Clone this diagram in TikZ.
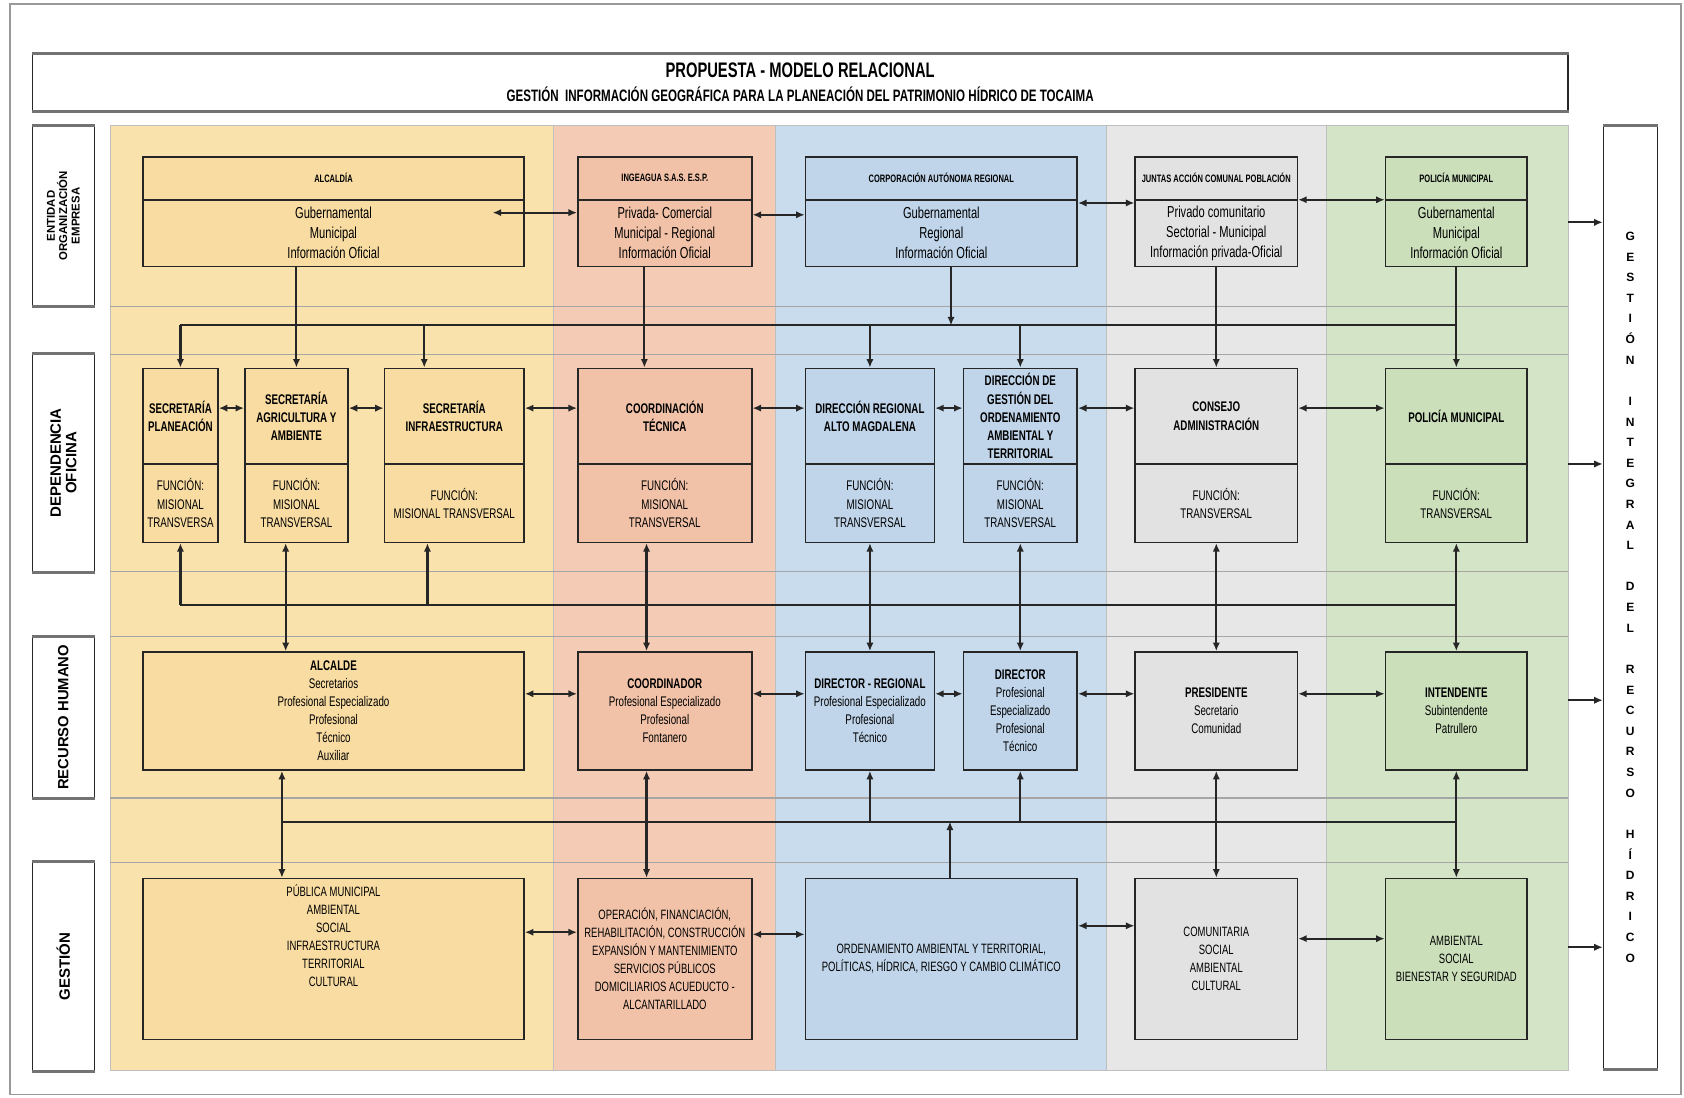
\documentclass[tikz,border=0pt]{standalone}
\usepackage{fontspec}
\setmainfont{Liberation Sans}
\newfontfamily\narrowfont{Liberation Sans}[FakeStretch=0.7]
\usetikzlibrary{arrows.meta,calc}
\definecolor{Ink}{HTML}{262626}
\definecolor{LaneYel}{HTML}{FAE2AC}
\definecolor{BoxYel}{HTML}{F8DCA2}
\definecolor{LaneSal}{HTML}{F4CBB4}
\definecolor{BoxSal}{HTML}{F2C2A8}
\definecolor{LaneBlu}{HTML}{C9DCEE}
\definecolor{BoxBlu}{HTML}{C0D5EA}
\definecolor{LaneGry}{HTML}{E7E7E7}
\definecolor{BoxGry}{HTML}{E2E2E2}
\definecolor{LaneGrn}{HTML}{D3E5C6}
\definecolor{BoxGrn}{HTML}{CADFBA}

\begin{document}
\begin{tikzpicture}[x=0.5pt,y=-0.5pt,
  spot/.style args={#1/#2/#3/#4}{at={({(#1+#3)/2},{(#2+#4)/2})},
    minimum width=(#3-#1)*0.5pt,minimum height=(#4-#2)*0.5pt},
  box/.style={draw=Ink,line width=0.7pt,inner sep=0pt,align=center,
    font=\narrowfont\fontsize{6.5}{8.4}\selectfont},
  yel/.style={box,fill=BoxYel}, sal/.style={box,fill=BoxSal}, blu/.style={box,fill=BoxBlu},
  gry/.style={box,fill=BoxGry}, grn/.style={box,fill=BoxGrn},
  hdr/.style={font=\narrowfont\bfseries\fontsize{5}{6}\selectfont},
  org/.style={font=\narrowfont\fontsize{7.4}{9.25}\selectfont},
  dep/.style={font=\narrowfont\bfseries\fontsize{6.5}{8.5}\selectfont},
  fun/.style={font=\narrowfont\fontsize{6.5}{8.5}\selectfont},
  ges/.style={font=\narrowfont\fontsize{6.3}{8.4}\selectfont},
  lane/.style={draw=black!25,line width=0.4pt,inner sep=0pt},
  side/.style={draw=Ink,fill=white,line width=0.6pt,inner sep=0pt,align=center},
  bandline/.style={draw=black!35,line width=0.5pt},
  edge/.style={black!55,line width=1.4pt},
  line/.style={line width=1pt,color=Ink},
  arr/.style={line,-{Latex[length=4pt,width=3.4pt]}},
  darr/.style={line,{Latex[length=4pt,width=3.4pt]}-{Latex[length=4pt,width=3.4pt]}}
]
\useasboundingbox (0,0) rectangle (1568,1022);
\draw[black!40,line width=0.8pt] (9,4) rectangle (1565,1019);

% title
\node[side,spot=30/50/1460/103,font=\narrowfont\bfseries] (ttl)
  {{\fontsize{9.8}{11}\selectfont PROPUESTA - MODELO RELACIONAL}\\[-1pt]
   {\fontsize{7.7}{9}\selectfont GESTIÓN\ \ INFORMACIÓN GEOGRÁFICA PARA LA PLANEACIÓN DEL PATRIMONIO HÍDRICO DE TOCAIMA}};

% lanes
\node[lane,fill=LaneYel,spot=103/117/515/997] (laneA) {};
\node[lane,fill=LaneSal,spot=515/117/722/997] (laneB) {};
\node[lane,fill=LaneBlu,spot=722/117/1030/997] (laneC) {};
\node[lane,fill=LaneGry,spot=1030/117/1235/997] (laneD) {};
\node[lane,fill=LaneGrn,spot=1235/117/1460/997] (laneE) {};
\foreach \y in {285,330,532,593,743,803}
  \draw[bandline] (laneA.west |- 0,\y) -- (laneE.east |- 0,\y);

% row labels
\node[side,rotate=90,minimum width=84pt,minimum height=29pt,font=\bfseries\fontsize{5.3}{5.8}\selectfont] (ent) at (59,201)
  {ENTIDAD\\ORGANIZACIÓN\\EMPRESA};
\node[side,rotate=90,minimum width=101pt,minimum height=29pt,font=\bfseries\fontsize{7}{7.2}\selectfont] (dep) at (59,431)
  {DEPENDENCIA\\OFICINA};
\node[side,rotate=90,minimum width=75pt,minimum height=29pt,font=\bfseries\fontsize{6.9}{8}\selectfont] (rhu) at (59,668)
  {RECURSO HUMANO};
\node[side,rotate=90,minimum width=97pt,minimum height=29pt,font=\bfseries\fontsize{7}{8}\selectfont] (ges) at (59,900)
  {GESTIÓN};
\foreach \n in {ent,dep,rhu,ges}
  \draw[edge] (\n.north east) -- (\n.south east) (\n.north west) -- (\n.south west);
\node[side,spot=1493/117/1543/995,font=\bfseries\fontsize{5.6}{9.6}\selectfont] (gir)
  {G\\E\\S\\T\\I\\Ó\\N\\[9.6pt]I\\N\\T\\E\\G\\R\\A\\L\\[9.6pt]D\\E\\L\\[9.6pt]R\\E\\C\\U\\R\\S\\O\\[9.6pt]H\\Í\\D\\R\\I\\C\\O};
\foreach \n in {ttl,gir}
  \draw[edge] (\n.north west) -- (\n.north east) (\n.south west) -- (\n.south east);

% entidad
\node[yel,hdr,spot=133/146/488/186] (alcH) {ALCALDÍA};
\node[yel,org,spot=133/186/488/248] (alcB) {Gubernamental\\Municipal\\Información Oficial};
\node[sal,hdr,spot=538/146/700/186] (ingH) {INGEAGUA S.A.S. E.S.P.};
\node[sal,org,spot=538/186/700/248] (ingB) {Privada- Comercial\\Municipal - Regional\\Información Oficial};
\node[blu,hdr,spot=750/146/1003/186] (carH) {CORPORACIÓN AUTÓNOMA REGIONAL};
\node[blu,org,spot=750/186/1003/248] (carB) {Gubernamental\\Regional\\Información Oficial};
\node[gry,hdr,spot=1057/146/1208/186] (jacH) {JUNTAS ACCIÓN COMUNAL POBLACIÓN};
\node[gry,org,spot=1057/186/1208/248] (jacB) {Privado comunitario\\Sectorial - Municipal\\Información privada-Oficial};
\node[grn,hdr,spot=1290/146/1422/186] (polH) {POLICÍA MUNICIPAL};
\node[grn,org,spot=1290/186/1422/248] (polB) {Gubernamental\\Municipal\\Información Oficial};

% dependencia
\node[yel,dep,spot=133/343/203/432] (splH) {SECRETARÍA\\PLANEACIÓN};
\node[yel,fun,spot=133/432/203/505] (splF) {FUNCIÓN:\\MISIONAL\\TRANSVERSA};
\node[yel,dep,spot=228/343/324/432] (sagH) {SECRETARÍA\\AGRICULTURA Y\\AMBIENTE};
\node[yel,fun,spot=228/432/324/505] (sagF) {FUNCIÓN:\\MISIONAL\\TRANSVERSAL};
\node[yel,dep,spot=358/343/488/432] (sinH) {SECRETARÍA\\INFRAESTRUCTURA};
\node[yel,fun,spot=358/432/488/505] (sinF) {FUNCIÓN:\\MISIONAL TRANSVERSAL};
\node[sal,dep,spot=538/343/700/432] (cotH) {COORDINACIÓN\\TÉCNICA};
\node[sal,fun,spot=538/432/700/505] (cotF) {FUNCIÓN:\\MISIONAL\\TRANSVERSAL};
\node[blu,dep,spot=750/343/870/432] (draH) {DIRECCIÓN REGIONAL\\ALTO MAGDALENA};
\node[blu,fun,spot=750/432/870/505] (draF) {FUNCIÓN:\\MISIONAL\\TRANSVERSAL};
\node[blu,dep,spot=897/343/1003/432] (dgoH) {DIRECCIÓN DE\\GESTIÓN DEL\\ORDENAMIENTO\\AMBIENTAL Y\\TERRITORIAL};
\node[blu,fun,spot=897/432/1003/505] (dgoF) {FUNCIÓN:\\MISIONAL\\TRANSVERSAL};
\node[gry,dep,spot=1057/343/1208/432] (cadH) {CONSEJO\\ADMINISTRACIÓN};
\node[gry,fun,spot=1057/432/1208/505] (cadF) {FUNCIÓN:\\TRANSVERSAL};
\node[grn,dep,spot=1290/343/1422/432] (pmuH) {POLICÍA MUNICIPAL};
\node[grn,fun,spot=1290/432/1422/505] (pmuF) {FUNCIÓN:\\TRANSVERSAL};

% recurso humano
\node[yel,spot=133/607/488/717] (alcde) {\textbf{ALCALDE}\\Secretarios\\Profesional Especializado\\Profesional\\Técnico\\Auxiliar};
\node[sal,spot=538/607/700/717] (cdor) {\textbf{COORDINADOR}\\Profesional Especializado\\Profesional\\Fontanero};
\node[blu,spot=750/607/870/717] (dreg) {\textbf{DIRECTOR - REGIONAL}\\Profesional Especializado\\Profesional\\Técnico};
\node[blu,spot=897/607/1003/717] (dir) {\textbf{DIRECTOR}\\Profesional\\Especializado\\Profesional\\Técnico};
\node[gry,spot=1057/607/1208/717] (pres) {\textbf{PRESIDENTE}\\Secretario\\Comunidad};
\node[grn,spot=1290/607/1422/717] (inte) {\textbf{INTENDENTE}\\Subintendente\\Patrullero};

% gestion
\node[yel,spot=133/818/488/968] (g1) {};
\node[ges,inner sep=0pt,align=center,anchor=north] (g1t) at ($(g1.north)+(0,6)$)
  {PÚBLICA MUNICIPAL\\AMBIENTAL\\SOCIAL\\INFRAESTRUCTURA\\TERRITORIAL\\CULTURAL};
\node[sal,ges,spot=538/818/700/968] (g2) {OPERACIÓN, FINANCIACIÓN,\\REHABILITACIÓN, CONSTRUCCIÓN\\EXPANSIÓN Y MANTENIMIENTO\\SERVICIOS PÚBLICOS\\DOMICILIARIOS ACUEDUCTO -\\ALCANTARILLADO};
\node[blu,ges,spot=750/818/1003/968] (g3) {ORDENAMIENTO AMBIENTAL Y TERRITORIAL,\\POLÍTICAS, HÍDRICA, RIESGO Y CAMBIO CLIMÁTICO};
\node[gry,ges,spot=1057/818/1208/968] (g4) {COMUNITARIA\\SOCIAL\\AMBIENTAL\\CULTURAL};
\node[grn,ges,spot=1290/818/1422/968] (g5) {AMBIENTAL\\SOCIAL\\BIENESTAR Y SEGURIDAD};

% horizontal links
\draw[darr] ($(alcB.east |- 0,198)+(-30,0)$) -- (ingB.west |- 0,198);
\draw[darr] (ingB.east |- 0,200) -- (carB.west |- 0,200);
\draw[darr] (carB.east |- 0,189) -- (jacB.west |- 0,189);
\draw[darr] (jacB.east |- 0,186) -- (polB.west |- 0,186);
\foreach \a/\b in {splH/sagH,sagH/sinH,sinH/cotH,cotH/draH,draH/dgoH,dgoH/cadH,cadH/pmuH}
  \draw[darr] (\a.east |- 0,380) -- (\b.west |- 0,380);
\foreach \a/\b in {alcde/cdor,cdor/dreg,dreg/dir,dir/pres,pres/inte}
  \draw[darr] (\a.east |- 0,646) -- (\b.west |- 0,646);
\foreach \a/\b/\y in {g1/g2/868,g2/g3/870,g3/g4/862,g4/g5/874}
  \draw[darr] (\a.east |- 0,\y) -- (\b.west |- 0,\y);
\foreach \y in {207,432,652,882}
  \draw[arr] (laneE.east |- 0,\y) -- (gir.west |- 0,\y);

% entidad -> dependencia
\draw[line] (splH.north |- 0,303) -- (pmuH.north |- 0,303);
\draw[arr] (alcB.south -| sagH.north) -- (sagH.north);
\draw[arr] (splH.north |- 0,303) -- (splH.north);
\draw[arr] ($(sinH.north |- 0,303)+(-28,0)$) -- ($(sinH.north)+(-28,0)$);
\draw[arr] ($(ingB.south)+(-19,0)$) -- ($(cotH.north)+(-19,0)$);
\draw[arr] ($(carB.south)+(9,0)$) -- ($(carB.south |- 0,303)+(9,0)$);
\draw[arr] (draH.north |- 0,303) -- (draH.north);
\draw[arr] (dgoH.north |- 0,303) -- (dgoH.north);
\draw[arr] (jacB.south) -- (cadH.north);
\draw[arr] (polB.south) -- (pmuH.north);

% dependencia -> recurso humano
\draw[line] (splF.south |- 0,563) -- (pmuF.south |- 0,563);
\draw[arr] (splF.south |- 0,563) -- (splF.south);
\draw[darr] ($(sagF.south)+(-10,0)$) -- ($(alcde.north -| sagF.south)+(-10,0)$);
\draw[arr] ($(sinF.south |- 0,563)+(-25,0)$) -- ($(sinF.south)+(-25,0)$);
\draw[darr] ($(cotF.south)+(-17,0)$) -- ($(cdor.north -| cotF.south)+(-17,0)$);
\draw[darr] (draF.south) -- (dreg.north);
\draw[darr] (dgoF.south) -- (dir.north);
\draw[darr] (cadF.south) -- (pres.north);
\draw[darr] (pmuF.south) -- (inte.north);

% recurso humano -> gestion
\draw[line] ($(alcde.south |- 0,765)+(-48,0)$) -- (inte.south |- 0,765);
\draw[darr] ($(alcde.south)+(-48,0)$) -- ($(g1.north)+(-48,0)$);
\draw[darr] ($(cdor.south)+(-17,0)$) -- ($(g2.north)+(-17,0)$);
\draw[arr] (dreg.south |- 0,765) -- (dreg.south);
\draw[arr] (dir.south |- 0,765) -- (dir.south);
\draw[arr] ($(g3.north)+(8,0)$) -- ($(g3.north |- 0,765)+(8,0)$);
\draw[darr] (pres.south) -- (g4.north);
\draw[darr] (inte.south) -- (g5.north);
\end{tikzpicture}
\end{document}
